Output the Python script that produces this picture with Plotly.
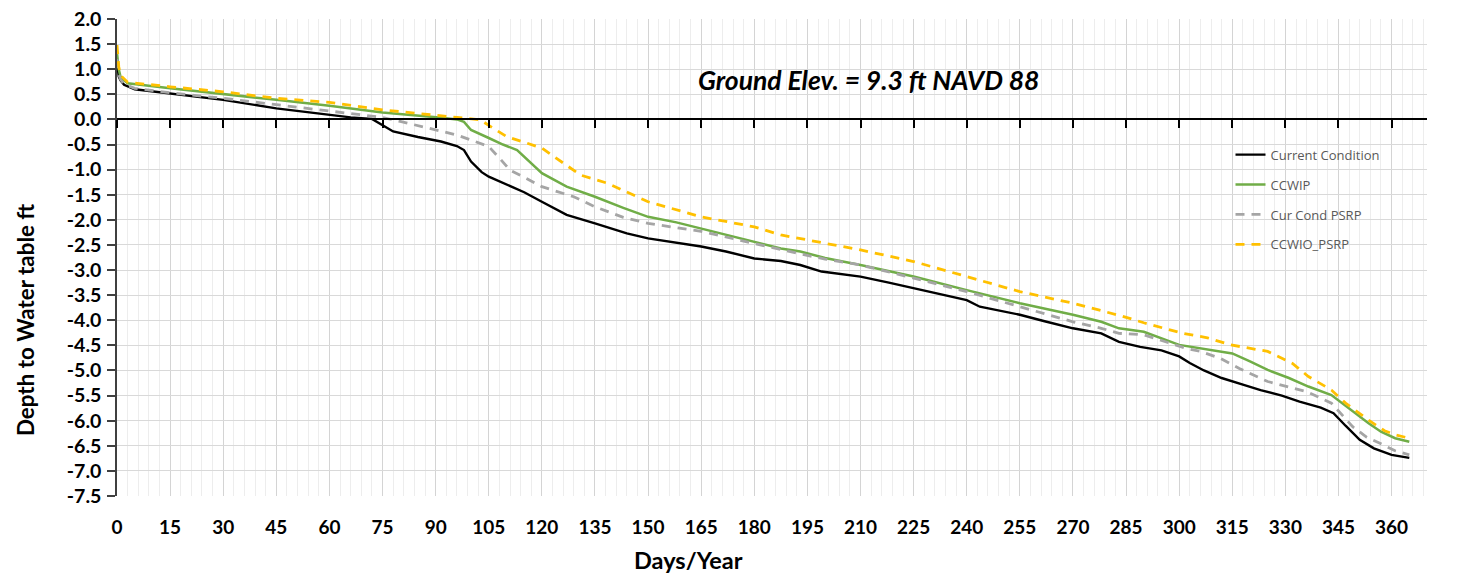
import plotly.graph_objects as go

# ---- data ----
cc_days = [0, 0.5, 1, 2, 5, 15, 30, 45, 60, 66, 72, 75, 78, 85, 91.5, 96, 98, 100, 103, 105, 107, 110, 115, 120, 127, 135, 144, 150, 157, 165, 172, 180, 187.5, 193, 199, 210, 218, 225, 233, 240, 243.7, 249, 255, 262, 270, 278, 283, 289, 295, 300, 303, 307, 312, 318, 323, 329, 334, 340, 343.6, 347, 351, 355, 360, 365]
cc_vals = [1.15, 0.85, 0.78, 0.69, 0.6, 0.51, 0.39, 0.22, 0.09, 0.04, 0.01, -0.11, -0.24, -0.35, -0.44, -0.53, -0.61, -0.84, -1.05, -1.14, -1.2, -1.30, -1.45, -1.64, -1.90, -2.07, -2.27, -2.37, -2.45, -2.53, -2.63, -2.77, -2.82, -2.90, -3.03, -3.13, -3.25, -3.36, -3.48, -3.60, -3.73, -3.80, -3.89, -4.02, -4.16, -4.26, -4.43, -4.53, -4.6, -4.72, -4.85, -5.0, -5.15, -5.28, -5.39, -5.5, -5.62, -5.74, -5.85, -6.1, -6.38, -6.55, -6.68, -6.74]

ccwip_days = [0, 0.5, 1, 3, 15, 30, 45, 60, 75, 91, 96, 98, 100, 105, 109, 113, 116, 118, 120, 127, 135, 143, 150, 158, 165, 172, 180, 187.5, 193, 200, 210, 225, 240, 255, 270, 278, 283, 290, 300, 308, 315, 320, 325, 331, 336.5, 343, 346, 350, 353.5, 357, 361, 365]
ccwip_vals = [1.32, 1.0, 0.85, 0.72, 0.62, 0.51, 0.39, 0.27, 0.14, 0.04, 0.0, -0.05, -0.21, -0.37, -0.5, -0.61, -0.8, -0.94, -1.07, -1.34, -1.54, -1.76, -1.94, -2.05, -2.17, -2.3, -2.43, -2.57, -2.63, -2.76, -2.90, -3.13, -3.40, -3.66, -3.89, -4.03, -4.16, -4.23, -4.49, -4.58, -4.66, -4.82, -4.99, -5.15, -5.32, -5.49, -5.65, -5.88, -6.05, -6.22, -6.35, -6.42]

ccpsrp_days = [0, 0.5, 1, 2, 5, 15, 30, 45, 60, 75, 80, 85, 90, 96, 100, 105, 108, 111, 115, 120, 129, 135, 143, 150, 165, 180, 187.5, 193, 200, 210, 225, 240, 255, 270, 278, 283, 290, 302, 306, 311.7, 317, 325, 336, 343, 349, 353, 356.7, 361, 365]
ccpsrp_vals = [1.2, 0.9, 0.8, 0.7, 0.62, 0.53, 0.42, 0.29, 0.16, 0.04, -0.04, -0.12, -0.21, -0.31, -0.41, -0.54, -0.77, -1.01, -1.15, -1.34, -1.54, -1.74, -1.95, -2.07, -2.23, -2.47, -2.6, -2.68, -2.78, -2.90, -3.16, -3.43, -3.73, -4.03, -4.16, -4.26, -4.29, -4.56, -4.62, -4.76, -4.96, -5.22, -5.42, -5.65, -6.12, -6.33, -6.45, -6.6, -6.68]

ccwio_days = [0, 0.5, 1, 3, 15, 30, 45, 60, 75, 90, 96, 102.7, 105, 110, 115, 120, 123.4, 127, 131, 138.5, 150, 165, 180, 187.5, 193, 210, 225, 240, 255, 270, 278, 284, 290, 301, 308, 314.5, 325, 332, 336.5, 343, 347, 353.5, 358, 361, 365]
ccwio_vals = [1.48, 1.05, 0.88, 0.74, 0.65, 0.55, 0.42, 0.34, 0.19, 0.09, 0.04, -0.01, -0.12, -0.34, -0.45, -0.57, -0.74, -0.92, -1.11, -1.27, -1.64, -1.94, -2.14, -2.30, -2.37, -2.60, -2.83, -3.13, -3.43, -3.66, -3.8, -3.92, -4.05, -4.26, -4.35, -4.49, -4.62, -4.86, -5.12, -5.39, -5.65, -5.99, -6.2, -6.28, -6.35]

series_names = ["Current Condition", "CCWIP", "Cur Cond PSRP", "CCWIO_PSRP"]

x_ticks = list(range(0, 361, 15))
y_ticks = [v / 2 for v in range(-15, 5)]

FONT = "Lato"

fig = go.Figure()
specs = [
    (cc_days, cc_vals, "#000000", "solid", 2.4),
    (ccwip_days, ccwip_vals, "#70AD47", "solid", 2.5),
    (ccpsrp_days, ccpsrp_vals, "#A5A5A5", "9px,7px", 2.8),
    (ccwio_days, ccwio_vals, "#FFC000", "9px,7px", 2.8),
]
for i, (xs, ys, col, dash, w) in enumerate(specs):
    fig.add_trace(go.Scatter(
        x=xs, y=ys, mode="lines", name=series_names[i], legendgroup=str(i),
        line=dict(color=col, width=w, dash=dash),
    ))

# axis line at y = 0 with major tick marks
fig.add_trace(go.Scatter(x=[None], y=[None], xaxis="x2", showlegend=False, hoverinfo="skip"))

fig.update_layout(
    width=1460, height=577,
    margin=dict(l=117, r=33, t=19, b=81, autoexpand=False),
    paper_bgcolor="white", plot_bgcolor="white",
    font=dict(family=FONT, color="#000000"),
    showlegend=True,
    legend=dict(
        x=0.85, y=0.747, xanchor="left", yanchor="top",
        bgcolor="rgba(0,0,0,0)", font=dict(family="Open Sans", size=13, color="#595959"),
        tracegroupgap=10, itemwidth=30,
    ),
    xaxis=dict(
        range=[0, 370], tickvals=x_ticks, ticktext=[str(v) for v in x_ticks],
        showgrid=True, gridcolor="#D4D4D4", gridwidth=1,
        minor=dict(dtick=3, tick0=0, showgrid=True, gridcolor="#EDEDED", gridwidth=1),
        showline=False, zeroline=False, ticks="", automargin=False,
        tickfont=dict(family=FONT, size=19, color="#000000", weight="bold"),
        ticklabelstandoff=18,
    ),
    xaxis2=dict(
        range=[0, 370], overlaying="x", anchor="free", position=7.5 / 9.5, side="bottom",
        tickvals=x_ticks, showticklabels=False, showgrid=False, zeroline=False,
        showline=True, linecolor="#000000", linewidth=1.5, automargin=False,
        ticks="outside", ticklen=8, tickwidth=1.5, tickcolor="#000000",
    ),
    yaxis=dict(
        range=[-7.5, 2.0], tickvals=y_ticks, ticktext=[f"{v:.1f}" for v in y_ticks],
        showgrid=True, gridcolor="#D9D9D9", gridwidth=1, zeroline=False,
        showline=True, linecolor="#404040", linewidth=1.5, automargin=False,
        ticks="outside", ticklen=8, tickwidth=1.5, tickcolor="#404040",
        tickfont=dict(family=FONT, size=19.5, color="#000000", weight="bold"),
        ticklabelstandoff=2,
    ),
    annotations=[
        dict(text="<b><i>Ground Elev. = 9.3 ft NAVD 88</i></b>", x=0.574, y=0.872,
             xref="paper", yref="paper", showarrow=False, xanchor="center", yanchor="middle",
             font=dict(family=FONT, size=26.5, color="#000000")),
        dict(text="<b>Days/Year</b>", x=0.436, y=-0.134, xref="paper", yref="paper",
             showarrow=False, xanchor="center", yanchor="middle",
             font=dict(family=FONT, size=23.5, color="#000000")),
        dict(text="<b>Depth to Water table ft</b>", x=-0.0694, y=0.369, xref="paper", yref="paper",
             showarrow=False, textangle=-90, xanchor="center", yanchor="middle",
             font=dict(family=FONT, size=22.4, color="#000000")),
    ],
)

fig.write_html("out.html")
